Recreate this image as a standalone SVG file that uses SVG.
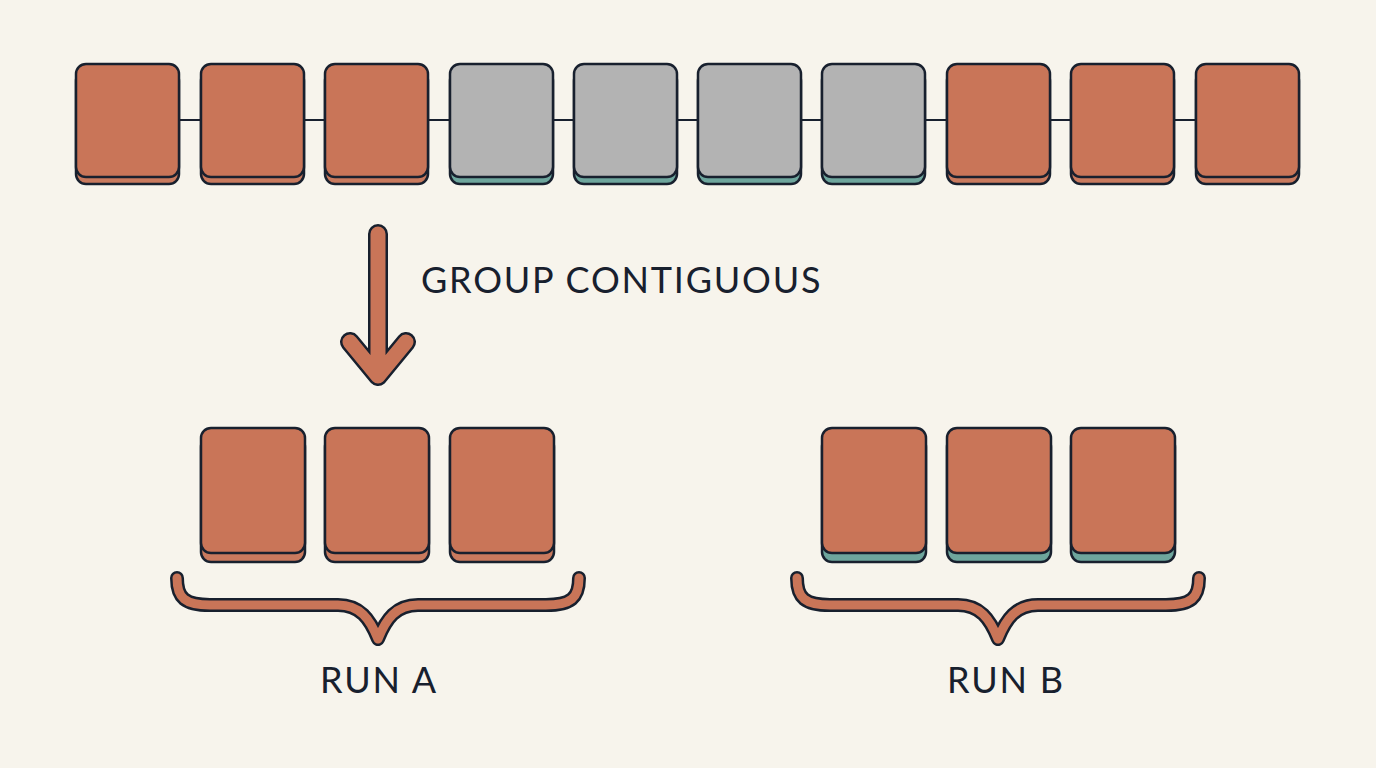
<svg xmlns="http://www.w3.org/2000/svg" width="1376" height="768" viewBox="0 0 1376 768">
<style>
.face{stroke:#18202e;stroke-width:2.5}
.or{fill:#c97558}
.gr{fill:#b3b3b3}
.bor{fill:#c97a5e;stroke:#18202e;stroke-width:2.5}
.bte{fill:#6ea69d;stroke:#18202e;stroke-width:2.5}
.lbl{font-family:Lato,"Noto Sans",sans-serif;font-size:36px;fill:#18202e;letter-spacing:1.8px}
.out{fill:none;stroke:#18202e;stroke-linecap:round;stroke-linejoin:round}
.inn{fill:none;stroke:#c97558;stroke-linecap:round;stroke-linejoin:round}
</style>
<rect width="1376" height="768" fill="#f7f4ec"/>
<g id="connectors">
<line x1="179" y1="120" x2="1196" y2="120" stroke="#18202e" stroke-width="2"/>
</g>
<g id="top-row">
<g id="t1"><rect class="bor" x="76" y="71" width="103" height="113" rx="10"/><rect class="face or" x="76" y="64" width="103" height="113" rx="10"/></g>
<g id="t2"><rect class="bor" x="201" y="71" width="103" height="113" rx="10"/><rect class="face or" x="201" y="64" width="103" height="113" rx="10"/></g>
<g id="t3"><rect class="bor" x="325" y="71" width="103" height="113" rx="10"/><rect class="face or" x="325" y="64" width="103" height="113" rx="10"/></g>
<g id="t4"><rect class="bte" x="450" y="71" width="103" height="113" rx="10"/><rect class="face gr" x="450" y="64" width="103" height="113" rx="10"/></g>
<g id="t5"><rect class="bte" x="574" y="71" width="103" height="113" rx="10"/><rect class="face gr" x="574" y="64" width="103" height="113" rx="10"/></g>
<g id="t6"><rect class="bte" x="698" y="71" width="103" height="113" rx="10"/><rect class="face gr" x="698" y="64" width="103" height="113" rx="10"/></g>
<g id="t7"><rect class="bte" x="822" y="71" width="103" height="113" rx="10"/><rect class="face gr" x="822" y="64" width="103" height="113" rx="10"/></g>
<g id="t8"><rect class="bor" x="947" y="71" width="103" height="113" rx="10"/><rect class="face or" x="947" y="64" width="103" height="113" rx="10"/></g>
<g id="t9"><rect class="bor" x="1071" y="71" width="103" height="113" rx="10"/><rect class="face or" x="1071" y="64" width="103" height="113" rx="10"/></g>
<g id="t10"><rect class="bor" x="1196" y="71" width="103" height="113" rx="10"/><rect class="face or" x="1196" y="64" width="103" height="113" rx="10"/></g>
</g>
<g id="arrow">
<path class="out" stroke-width="20" d="M378,234 L378,376 M350,342 L378,376 L406,342"/>
<path class="inn" stroke-width="15" d="M378,234 L378,376 M350,342 L378,376 L406,342"/>
</g>
<text id="step-label" class="lbl" x="421" y="293">GROUP CONTIGUOUS</text>
<g id="run-a">
<rect class="bor" x="201" y="437" width="104" height="125" rx="10"/><rect class="face or" x="201" y="428" width="104" height="125" rx="10"/>
<rect class="bor" x="325" y="437" width="104" height="125" rx="10"/><rect class="face or" x="325" y="428" width="104" height="125" rx="10"/>
<rect class="bor" x="450" y="437" width="104" height="125" rx="10"/><rect class="face or" x="450" y="428" width="104" height="125" rx="10"/>
<path class="out" stroke-width="14" d="M177,578 C177,598 185,605 210,605 L338,605 C360,605 370,619 378,639 C386,619 396,605 418,605 L546,605 C571,605 579,598 579,578"/>
<path class="inn" stroke-width="9" d="M177,578 C177,598 185,605 210,605 L338,605 C360,605 370,619 378,639 C386,619 396,605 418,605 L546,605 C571,605 579,598 579,578"/>
<text class="lbl" x="379" y="693" text-anchor="middle">RUN A</text>
</g>
<g id="run-b">
<rect class="bte" x="822" y="437" width="104" height="125" rx="10"/><rect class="face or" x="822" y="428" width="104" height="125" rx="10"/>
<rect class="bte" x="947" y="437" width="104" height="125" rx="10"/><rect class="face or" x="947" y="428" width="104" height="125" rx="10"/>
<rect class="bte" x="1071" y="437" width="104" height="125" rx="10"/><rect class="face or" x="1071" y="428" width="104" height="125" rx="10"/>
<path class="out" stroke-width="14" d="M797,578 C797,598 805,605 830,605 L958,605 C980,605 990,619 998,639 C1006,619 1016,605 1038,605 L1166,605 C1191,605 1199,598 1199,578"/>
<path class="inn" stroke-width="9" d="M797,578 C797,598 805,605 830,605 L958,605 C980,605 990,619 998,639 C1006,619 1016,605 1038,605 L1166,605 C1191,605 1199,598 1199,578"/>
<text class="lbl" x="1006" y="693" text-anchor="middle">RUN B</text>
</g>
</svg>
